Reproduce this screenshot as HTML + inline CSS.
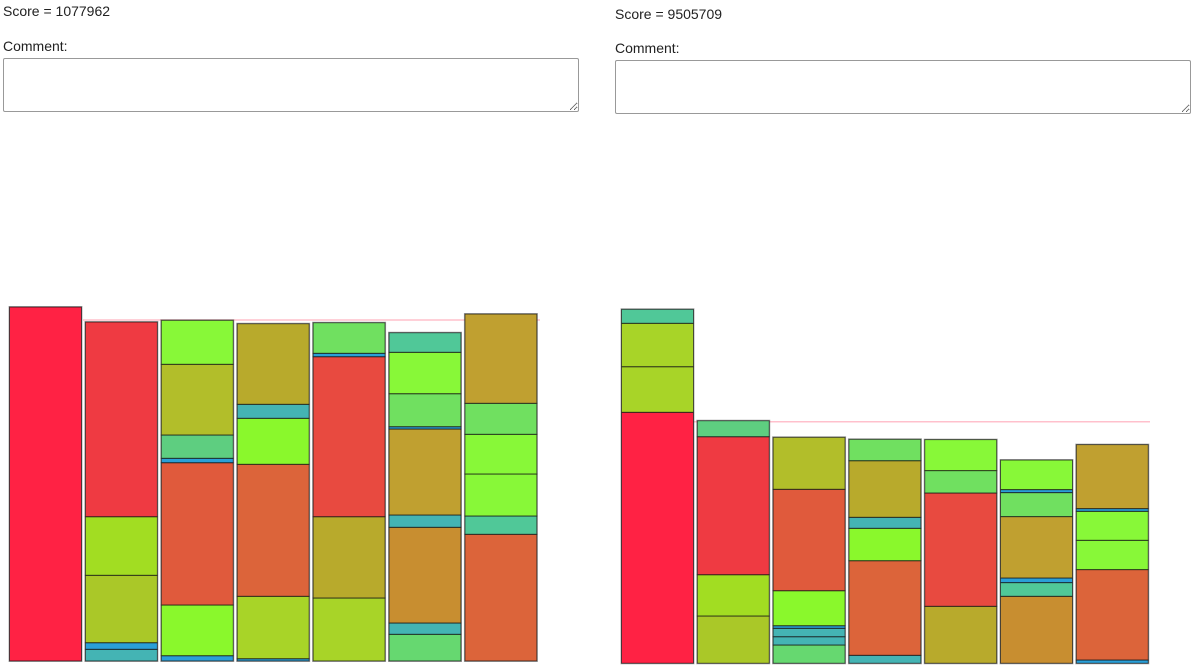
<!DOCTYPE html>
<html><head><meta charset="utf-8">
<style>
html,body{margin:0;padding:0;background:#fff;width:1200px;height:667px;overflow:hidden;font-family:"Liberation Sans",sans-serif;color:#222;}
.lbl{position:absolute;font-size:14px;line-height:16px;}
textarea{position:absolute;box-sizing:border-box;border:1px solid #999;border-radius:2px;resize:both;margin:0;padding:2px;font-family:"Liberation Sans",sans-serif;}
svg{position:absolute;left:0;top:0;}
</style></head>
<body>
<div class="lbl" style="left:3px;top:3px;">Score = 1077962</div>
<div class="lbl" style="left:3px;top:38px;">Comment:</div>
<textarea style="left:3px;top:58px;width:576px;height:54px;"></textarea>
<div class="lbl" style="left:615px;top:6px;">Score = 9505709</div>
<div class="lbl" style="left:615px;top:40px;">Comment:</div>
<textarea style="left:615px;top:60px;width:576px;height:54px;"></textarea>
<svg id="chart" width="1200" height="667"></svg>
<script>
// Colour keys
const palette = {R:"#ff2244",r:"#ef3a42",e:"#e84a40",o:"#e05a3c",O:"#dc643a",c:"#c88e30",g:"#c0a030",k:"#b8aa2c",v:"#b2be2a",a:"#aac828",y:"#a2dd22",Y:"#a8d428",L:"#8af82c",l:"#88f838",G:"#70e060",m:"#66d870",n:"#5ece80",s:"#50c898",t:"#44b4b4",b:"#2a9fd8"};

// Left panel: segment values (bottom to top) per bar
const leftValues = [
  [354],
  [11.7,6.6,67.4,58.6,194.7],
  [5.3,50.7,142.3,4.4,23.3,70.7,44],
  [2.3,62.4,132,46,14,80.6],
  [63,81.3,160,3.4,30.6],
  [26.7,11.3,95.7,12.3,86,2.3,33,41.4,19.6],
  [126.7,18.3,42,39.7,31,89.3]
];
const leftColors = [
  ["R"],
  ["t","b","a","y","r"],
  ["b","L","o","b","n","v","l"],
  ["b","Y","O","L","t","k"],
  ["Y","k","e","b","G"],
  ["m","t","c","t","g","b","G","l","s"],
  ["O","s","l","l","G","g"]
];
const leftRefValue = 341;

// Right panel
const rightValues = [
  [251,45.6,43.4,14],
  [47.3,41.3,138,16],
  [18.3,8.3,8.4,2.6,35,101.4,52],
  [8,94.6,32.4,11,56.6,21.4],
  [57,113.3,22.4,31],
  [67,13.7,4.6,61.4,24,3,29.6],
  [3.3,90.4,29.3,29,2.7,64]
];
const rightColors = [
  ["R","Y","Y","s"],
  ["a","y","r","n"],
  ["m","t","t","b","L","o","v"],
  ["t","O","L","t","k","G"],
  ["k","e","G","l"],
  ["c","s","b","g","G","b","l"],
  ["b","O","l","l","b","g"]
];
const rightRefValue = 241.6;

const svg = document.getElementById('chart');
const NS = "http://www.w3.org/2000/svg";

function drawPanel(name, values, colors, refValue, x0, step, barW, baseline, lineX1, lineX2){
  const yScale = v => baseline - v;           // 1 unit = 1px
  const xScale = i => x0 + i * step;
  const g = document.createElementNS(NS,'g');
  
  
  svg.appendChild(g);
  const ref = document.createElementNS(NS,'line');
  
  
  ref.setAttribute('x1', lineX1); ref.setAttribute('x2', lineX2);
  ref.setAttribute('y1', yScale(refValue)); ref.setAttribute('y2', yScale(refValue));
  ref.setAttribute('stroke', '#ffc0cc'); ref.setAttribute('stroke-width', '1.5');
  g.appendChild(ref);
  values.forEach((segs, i) => {
    let cum = 0;
    const bar = document.createElementNS(NS,'g');
    
    
    g.appendChild(bar);
    segs.forEach((v, j) => {
      const r = document.createElementNS(NS,'rect');
      
      
      r.setAttribute('x', xScale(i));
      r.setAttribute('y', yScale(cum + v));
      r.setAttribute('width', barW);
      r.setAttribute('height', v);
      r.setAttribute('fill', palette[colors[i][j]]);
      r.setAttribute('stroke', 'rgba(20,20,20,0.75)');
      r.setAttribute('stroke-width', '1');
      bar.appendChild(r);
      cum += v;
    });
    const outline = document.createElementNS(NS,'rect');
    
    
    outline.setAttribute('x', xScale(i) - 0.5);
    outline.setAttribute('y', yScale(cum) - 0.5);
    outline.setAttribute('width', barW + 1);
    outline.setAttribute('height', cum + 1);
    outline.setAttribute('fill', 'none');
    outline.setAttribute('stroke', 'rgba(80,80,80,0.45)');
    outline.setAttribute('stroke-width', '1');
    bar.appendChild(outline);
  });
}
drawPanel('left', leftValues, leftColors, leftRefValue, 9.5, 75.9, 72, 661, 83, 540);
drawPanel('right', rightValues, rightColors, rightRefValue, 621.5, 75.8, 72, 663.3, 621, 1150);
</script>
</body></html>
